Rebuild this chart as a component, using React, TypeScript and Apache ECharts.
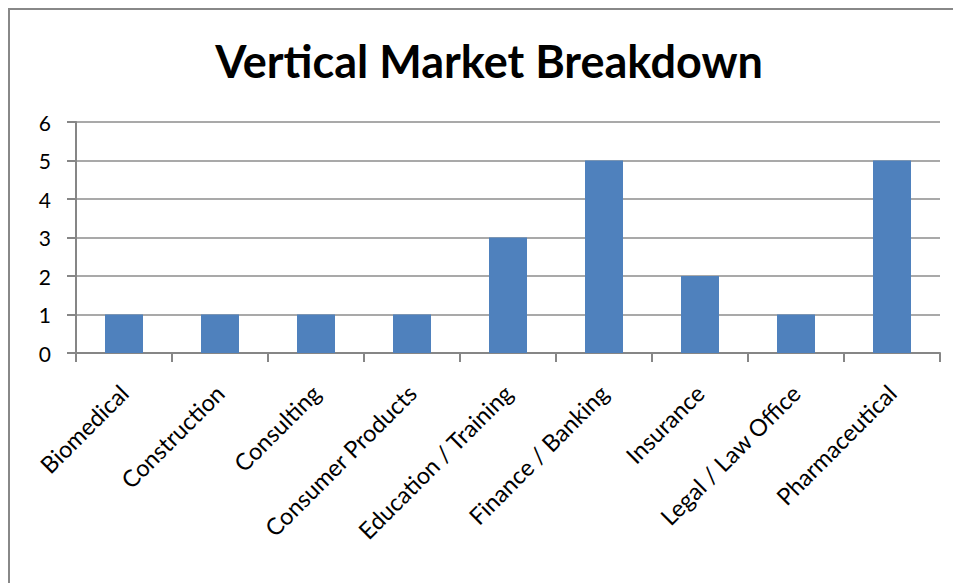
import React, { useEffect, useRef } from "react";
import * as echarts from "echarts";

const title = "Vertical Market Breakdown";
const categories = [
  "Biomedical",
  "Construction",
  "Consulting",
  "Consumer Products",
  "Education / Training",
  "Finance / Banking",
  "Insurance",
  "Legal / Law Office",
  "Pharmaceutical",
];
const values = [1, 1, 1, 1, 3, 5, 2, 1, 5];
const yTicks = { min: 0, max: 6, interval: 1 };

const FONT = "Lato, 'Open Sans', sans-serif";

export default function App() {
  const ref = useRef<HTMLDivElement>(null);
  useEffect(() => {
    if (!ref.current) return;
    const chart = echarts.init(ref.current, null, { renderer: "svg" });
    chart.setOption({
      animation: false,
      backgroundColor: "#ffffff",
      title: {
        text: title,
        left: "center",
        top: 23,
        textStyle: { fontFamily: FONT, fontWeight: "bold", fontSize: 45, color: "#000" },
      },
      grid: { left: 66, top: 112, width: 864, height: 231, containLabel: false },
      xAxis: {
        type: "category",
        data: categories,
        boundaryGap: true,
        axisLine: { lineStyle: { color: "#868686", width: 2 } },
        axisTick: { show: true, interval: 0, length: 9, lineStyle: { color: "#868686", width: 2 } },
        axisLabel: {
          interval: 0,
          rotate: 45,
          margin: 36,
          fontFamily: FONT,
          fontSize: 23.5,
          color: "#000",
        },
      },
      yAxis: {
        type: "value",
        min: yTicks.min,
        max: yTicks.max,
        interval: yTicks.interval,
        axisLine: { show: true, lineStyle: { color: "#868686", width: 2 } },
        axisTick: { show: true, length: 9, lineStyle: { color: "#868686", width: 2 } },
        axisLabel: { margin: 25, fontFamily: FONT, fontSize: 21, color: "#000" },
        splitLine: { show: true, lineStyle: { color: "#8c8c8c", width: 1.5 } },
      },
      series: [
        {
          type: "bar",
          data: values,
          barWidth: 38,
          itemStyle: { color: "#4F81BD" },
        },
      ],
    });
    return () => chart.dispose();
  }, []);
  return (
    <div style={{ width: 958, height: 600, border: "2px solid #888" }}>
      <div ref={ref} style={{ width: 958, height: 600 }} />
    </div>
  );
}
